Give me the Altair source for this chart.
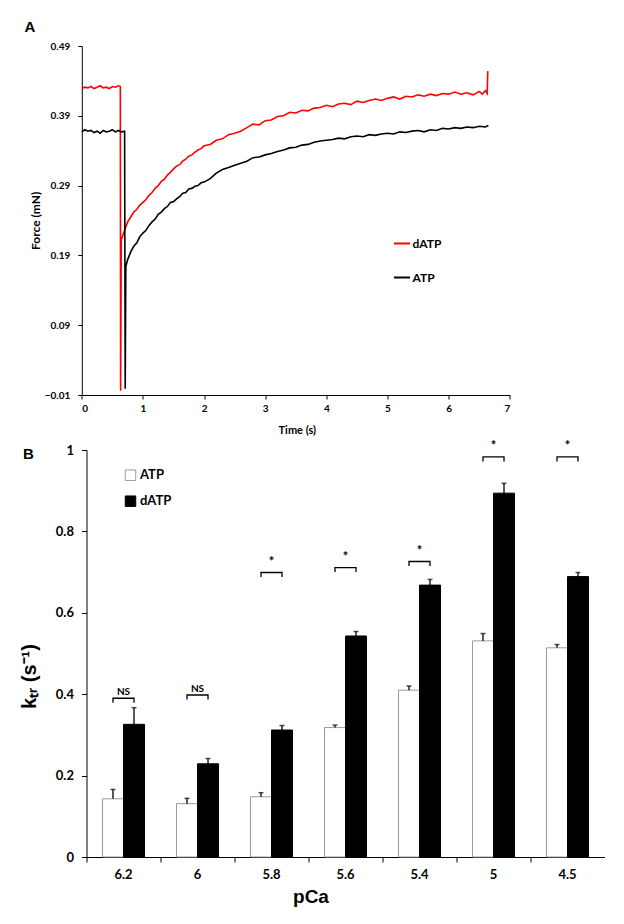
import altair as alt
import pandas as pd

# ---------------- Panel A data (force transients) ----------------
datp_t = [0.00, 0.05, 0.10, 0.15, 0.20, 0.25, 0.30, 0.35, 0.40, 0.45, 0.50, 0.55, 0.60, 0.63,
          0.635, 0.645, 0.70, 0.75, 0.80, 0.85, 0.90, 0.95, 1.00, 1.05, 1.10, 1.15, 1.20, 1.25,
          1.30, 1.35, 1.40, 1.45, 1.50, 1.55, 1.60, 1.65, 1.70, 1.75, 1.80, 1.85, 1.90, 1.95,
          2.00, 2.10, 2.20, 2.30, 2.40, 2.50, 2.60, 2.70, 2.80, 2.90, 3.00, 3.10, 3.20, 3.30,
          3.40, 3.50, 3.60, 3.70, 3.80, 3.90, 4.00, 4.10, 4.20, 4.30, 4.40, 4.50, 4.60, 4.70,
          4.80, 4.90, 5.00, 5.10, 5.20, 5.30, 5.40, 5.50, 5.60, 5.70, 5.80, 5.90, 6.00, 6.10,
          6.20, 6.30, 6.40, 6.50, 6.55, 6.60, 6.63, 6.64]
datp_f = [0.429, 0.431, 0.430, 0.432, 0.429, 0.431, 0.433, 0.430, 0.431, 0.429, 0.432, 0.431, 0.433, 0.432,
          -0.004, 0.212, 0.226, 0.238, 0.245, 0.252, 0.256, 0.262, 0.266, 0.270, 0.276, 0.280, 0.286, 0.290,
          0.296, 0.299, 0.305, 0.309, 0.314, 0.318, 0.320, 0.325, 0.328, 0.332, 0.334, 0.338, 0.341, 0.343,
          0.347, 0.349, 0.355, 0.357, 0.363, 0.365, 0.368, 0.373, 0.378, 0.377, 0.383, 0.384, 0.389, 0.390,
          0.395, 0.394, 0.398, 0.397, 0.401, 0.402, 0.405, 0.403, 0.407, 0.408, 0.406, 0.411, 0.409, 0.412,
          0.414, 0.412, 0.415, 0.417, 0.414, 0.418, 0.417, 0.420, 0.418, 0.421, 0.419, 0.422, 0.421, 0.424,
          0.421, 0.423, 0.420, 0.425, 0.421, 0.426, 0.422, 0.454]

atp_t = [0.00, 0.05, 0.10, 0.15, 0.20, 0.25, 0.30, 0.35, 0.40, 0.45, 0.50, 0.55, 0.60, 0.65, 0.70,
         0.71, 0.72, 0.75, 0.80, 0.85, 0.90, 0.95, 1.00, 1.05, 1.10, 1.15, 1.20, 1.25, 1.30, 1.35,
         1.40, 1.45, 1.50, 1.55, 1.60, 1.65, 1.70, 1.75, 1.80, 1.85, 1.90, 1.95, 2.00, 2.10, 2.20,
         2.30, 2.40, 2.50, 2.60, 2.70, 2.80, 2.90, 3.00, 3.10, 3.20, 3.30, 3.40, 3.50, 3.60, 3.70,
         3.80, 3.90, 4.00, 4.10, 4.20, 4.30, 4.40, 4.50, 4.60, 4.70, 4.80, 4.90, 5.00, 5.10, 5.20,
         5.30, 5.40, 5.50, 5.60, 5.70, 5.80, 5.90, 6.00, 6.10, 6.20, 6.30, 6.40, 6.50, 6.60, 6.65]
atp_f = [0.367, 0.370, 0.368, 0.369, 0.366, 0.368, 0.365, 0.369, 0.367, 0.368, 0.370, 0.367, 0.369, 0.367, 0.368,
         -0.001, 0.174, 0.184, 0.195, 0.203, 0.208, 0.217, 0.222, 0.226, 0.233, 0.238, 0.242, 0.249, 0.252, 0.257,
         0.260, 0.266, 0.267, 0.271, 0.274, 0.279, 0.280, 0.285, 0.286, 0.289, 0.290, 0.294, 0.295, 0.300, 0.308,
         0.313, 0.316, 0.319, 0.322, 0.325, 0.330, 0.331, 0.334, 0.336, 0.339, 0.341, 0.344, 0.345, 0.348, 0.349,
         0.352, 0.354, 0.355, 0.356, 0.358, 0.357, 0.360, 0.361, 0.360, 0.363, 0.362, 0.364, 0.365, 0.364, 0.367,
         0.366, 0.368, 0.369, 0.367, 0.370, 0.369, 0.372, 0.371, 0.373, 0.372, 0.374, 0.373, 0.375, 0.374, 0.376]

force_ticks = [-0.01, 0.09, 0.19, 0.29, 0.39, 0.49]
time_ticks = [0, 1, 2, 3, 4, 5, 6, 7]

# ---------------- Panel B data (ktr) ----------------
pca = ["6.2", "6", "5.8", "5.6", "5.4", "5", "4.5"]
atp_ktr = [0.143, 0.131, 0.148, 0.318, 0.410, 0.531, 0.514]
atp_sem = [0.023, 0.013, 0.010, 0.006, 0.010, 0.018, 0.008]
datp_ktr = [0.326, 0.229, 0.312, 0.543, 0.668, 0.894, 0.689]
datp_sem = [0.041, 0.013, 0.011, 0.011, 0.014, 0.024, 0.010]
bracket_y = [0.390, 0.398, 0.699, 0.711, 0.726, 0.983, 0.983]
sig_label = ["NS", "NS", "*", "*", "*", "*", "*"]
ktr_ticks = [0, 0.2, 0.4, 0.6, 0.8, 1]

LEG = 0.011  # bracket leg length (ktr units)

# ---------------- build tables ----------------
dfA = pd.concat([
    pd.DataFrame({"t": datp_t, "f": datp_f, "s": "dATP"}),
    pd.DataFrame({"t": atp_t, "f": atp_f, "s": "ATP"}),
], ignore_index=True)

rows = []
for i, p in enumerate(pca):
    rows.append({"pCa": p, "grp": "ATP", "val": atp_ktr[i], "top": atp_ktr[i] + atp_sem[i]})
    rows.append({"pCa": p, "grp": "dATP", "val": datp_ktr[i], "top": datp_ktr[i] + datp_sem[i]})
dfB = pd.DataFrame(rows)

brows = []
for i, p in enumerate(pca):
    y = bracket_y[i]
    brows += [
        {"pCa": p, "grp": "ATP", "y": y - LEG, "k": 0},
        {"pCa": p, "grp": "ATP", "y": y, "k": 1},
        {"pCa": p, "grp": "dATP", "y": y, "k": 2},
        {"pCa": p, "grp": "dATP", "y": y - LEG, "k": 3},
    ]
dfBr = pd.DataFrame(brows)
dfSig = pd.DataFrame({"pCa": pca, "y": bracket_y, "lab": sig_label})

TICKFONT = "Lato"
BOLDFONT = "Liberation Sans"

# ---------------- Panel A ----------------
A_SHIFT = 4.7  # panel A's y axis sits a little left of panel B's
xA = alt.X("t:Q", scale=alt.Scale(domain=[0, 7], nice=False, zero=False, range=[-A_SHIFT, 423.3]),
           axis=alt.Axis(values=time_ticks, title="Time (s)", grid=False, domainColor="black",
                         tickColor="black", tickSize=4, labelFont=TICKFONT, labelFontWeight="bold",
                         labelFontSize=10, labelColor="black", labelPadding=4,
                         titleFont=TICKFONT, titleFontWeight="bold", titleFontSize=11,
                         titleColor="black", titleX=210.3, titleY=35, titleBaseline="middle",
                         titleAlign="center"))
yA = alt.Y("f:Q", scale=alt.Scale(domain=[-0.01, 0.49], nice=False, zero=False),
           axis=alt.Axis(values=force_ticks, format=".2f", title="Force (mN)", grid=False,
                         offset=A_SHIFT,
                         domainColor="black", tickColor="black", tickSize=4,
                         labelFont=TICKFONT, labelFontWeight="bold", labelFontSize=10,
                         labelColor="black", labelPadding=8, titleFont=TICKFONT,
                         titleFontWeight="bold", titleFontSize=12, titleColor="black",
                         titleX=-46, titleY=174.3, titleBaseline="middle", titleAlign="center"))

lines = alt.Chart(dfA).mark_line(strokeWidth=1.6).encode(
    x=xA, y=yA,
    color=alt.Color("s:N", scale=alt.Scale(domain=["dATP", "ATP"], range=["#ff0000", "#000000"]),
                    legend=alt.Legend(title=None, orient="none", legendX=306, legendY=188,
                                      symbolType="stroke", symbolSize=260, symbolStrokeWidth=2,
                                      labelFont=TICKFONT, labelFontWeight="bold", labelFontSize=12,
                                      labelColor="black", rowPadding=18, labelOffset=1)),
    order=alt.Order("t:Q"),
)

labelA = alt.Chart(pd.DataFrame({"lab": ["A"]})).mark_text(
    font=BOLDFONT, fontWeight="bold", fontSize=15, align="center", baseline="middle", color="black"
).encode(x=alt.value(-56.7), y=alt.value(-19), text="lab:N")

panelA = alt.layer(lines, labelA).properties(width=423.3, height=349)

# ---------------- Panel B ----------------
xB = alt.X("pCa:N", sort=pca, scale=alt.Scale(paddingInner=0, paddingOuter=0),
           axis=alt.Axis(title="pCa", labelAngle=0, bandPosition=0, domainColor="black",
                         tickColor="black", tickSize=5, labelFont=TICKFONT, labelFontWeight="bold",
                         labelFontSize=13, labelColor="black", labelPadding=6,
                         titleFont=BOLDFONT, titleFontWeight="bold", titleFontSize=19,
                         titleColor="black", titleX=224, titleY=39, titleBaseline="middle",
                         titleAlign="center"))
xoff = alt.XOffset("grp:N", sort=["ATP", "dATP"], scale=alt.Scale(paddingOuter=0.76, paddingInner=0))
yB = alt.Y("val:Q", scale=alt.Scale(domain=[0, 1], nice=False),
           axis=alt.Axis(values=ktr_ticks, format="~g", title="kₜᵣ (s⁻¹)", grid=False,
                         domainColor="black", tickColor="black", tickSize=5,
                         labelFont=TICKFONT, labelFontWeight="bold", labelFontSize=13,
                         labelColor="black", labelPadding=8, titleFont=BOLDFONT,
                         titleFontWeight="bold", titleFontSize=20, titleColor="black",
                         titleX=-57, titleY=226, titleBaseline="middle", titleAlign="center"))

legB = alt.Legend(title=None, orient="none", legendX=37.5, legendY=422.7, symbolType="square",
                  symbolSize=110, labelFont=TICKFONT, labelFontWeight="bold", labelFontSize=13,
                  labelColor="black", rowPadding=11, labelOffset=3, symbolStrokeWidth=1)

bars = alt.Chart(dfB).mark_bar(strokeWidth=1).encode(
    x=xB, xOffset=xoff, y=yB,
    fill=alt.Fill("grp:N", scale=alt.Scale(domain=["ATP", "dATP"], range=["#ffffff", "#000000"]),
                  legend=legB),
    stroke=alt.Stroke("grp:N", scale=alt.Scale(domain=["ATP", "dATP"], range=["#9a9a9a", "#000000"]),
                      legend=legB),
)

errs = alt.Chart(dfB).mark_rule(color="black", strokeWidth=1.3).encode(
    x=alt.X("pCa:N", sort=pca), xOffset=alt.XOffset("grp:N", sort=["ATP", "dATP"]),
    y="val:Q", y2="top:Q")
caps = alt.Chart(dfB).mark_tick(color="black", thickness=1.5, size=5).encode(
    x=alt.X("pCa:N", sort=pca), xOffset=alt.XOffset("grp:N", sort=["ATP", "dATP"]),
    y="top:Q")

brackets = alt.Chart(dfBr).mark_line(color="black", strokeWidth=1.3).encode(
    x=alt.X("pCa:N", sort=pca), xOffset=alt.XOffset("grp:N", sort=["ATP", "dATP"]),
    y="y:Q", detail="pCa:N", order="k:Q")

stars = alt.Chart(dfSig).transform_filter(alt.datum.lab == "*").mark_text(
    font=TICKFONT, fontWeight="bold", fontSize=13, dy=-4, baseline="bottom", color="black"
).encode(x=alt.X("pCa:N", sort=pca), y="y:Q", text="lab:N")
ns = alt.Chart(dfSig).transform_filter(alt.datum.lab == "NS").mark_text(
    font=TICKFONT, fontWeight="bold", fontSize=10, dy=-1, baseline="bottom", color="black"
).encode(x=alt.X("pCa:N", sort=pca), y="y:Q", text="lab:N")

labelB = alt.Chart(pd.DataFrame({"lab": ["B"]})).mark_text(
    font=BOLDFONT, fontWeight="bold", fontSize=15, align="center", baseline="middle", color="black"
).encode(x=alt.value(-58), y=alt.value(4), text="lab:N")

panelB = alt.layer(bars, errs, caps, brackets, stars, ns, labelB).properties(width=518, height=407)

chart = alt.vconcat(panelA, panelB, spacing=4).properties(
    padding={"top": 12, "left": 11.5, "right": 5, "bottom": 5}
).configure_view(stroke=None).resolve_scale(color="independent")

chart.save("out.html", embed_options={"renderer": "svg", "actions": False})
